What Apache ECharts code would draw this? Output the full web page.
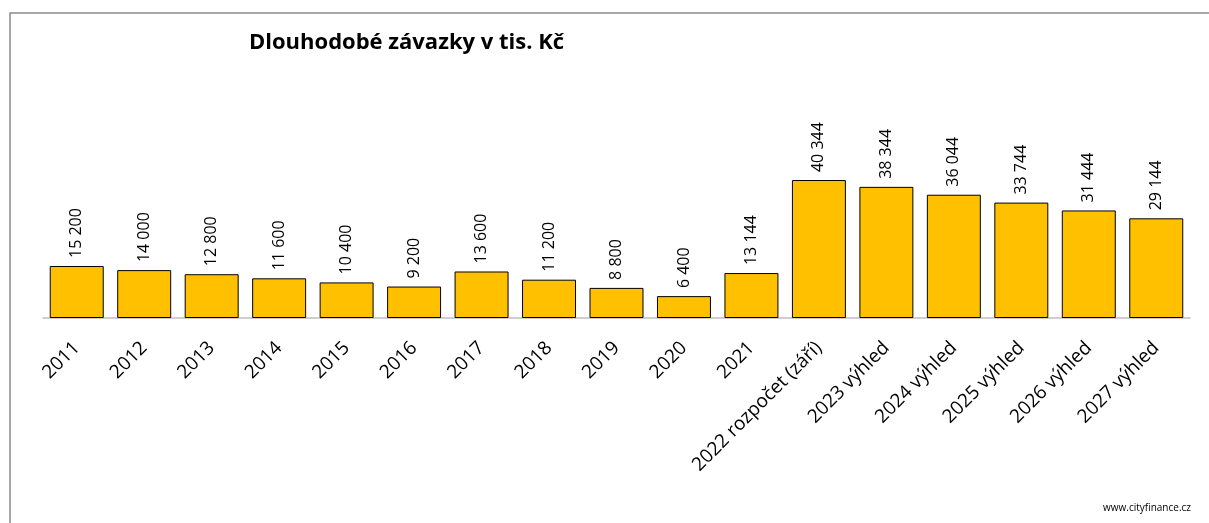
<!DOCTYPE html>
<html>
<head>
<meta charset="utf-8">
<script src="https://cdn.jsdelivr.net/npm/echarts@6/dist/echarts.min.js"></script>
<style>
html,body{margin:0;padding:0;background:#fff;}
#chart{width:1209px;height:523px;}
</style>
</head>
<body>
<div id="chart"></div>
<script>
// Long-term liabilities (thousand CZK) by year
const categories = ['2011','2012','2013','2014','2015','2016','2017','2018','2019','2020','2021',
  '2022 rozpočet (září)','2023 výhled','2024 výhled','2025 výhled','2026 výhled','2027 výhled'];
const values = [15200,14000,12800,11600,10400,9200,13600,11200,8800,6400,13144,
  40344,38344,36044,33744,31444,29144];

const fmt = v => String(v).replace(/\B(?=(\d{3})+(?!\d))/g, ' ');
const font = '"Open Sans", "Noto Sans", sans-serif';

const chart = echarts.init(document.getElementById('chart'), null, {renderer: 'canvas'});
chart.setOption({
  backgroundColor: '#ffffff',
  animation: false,
  title: {
    text: 'Dlouhodobé závazky v tis. Kč',
    left: 244, top: 27,
    textStyle: {fontFamily: font, fontSize: 22, fontWeight: 'bold', color: '#000'}
  },
  graphic: [
    {type: 'rect', shape: {x: 10, y: 13, width: 1260, height: 600},
     style: {fill: 'none', stroke: '#8a8a8a', lineWidth: 1.5}, silent: true},
    {type: 'text', right: 18, top: 503,
     style: {text: 'www.cityfinance.cz', font: '10px ' + font, fill: '#000'}}
  ],
  grid: {left: 43, right: 19, top: 44.4, bottom: 523 - 318, containLabel: false},
  xAxis: {
    type: 'category',
    data: categories,
    axisLine: {lineStyle: {color: '#bfbfbf', width: 1.5}},
    axisTick: {show: false},
    axisLabel: {rotate: 45, interval: 0, margin: 27, fontFamily: font, fontSize: 19, color: '#000'}
  },
  yAxis: {
    type: 'value', min: 0, max: 80000,
    show: false, splitLine: {show: false}
  },
  series: [{
    type: 'bar',
    data: values,
    barCategoryGap: '20%',
    itemStyle: {color: '#ffc000', borderColor: '#000', borderWidth: 1},
    label: {
      show: true, position: 'top', rotate: 90, align: 'left', verticalAlign: 'middle',
      distance: 8, formatter: p => fmt(p.value),
      fontFamily: font, fontSize: 16, color: '#000'
    }
  }]
});
</script>
</body>
</html>
